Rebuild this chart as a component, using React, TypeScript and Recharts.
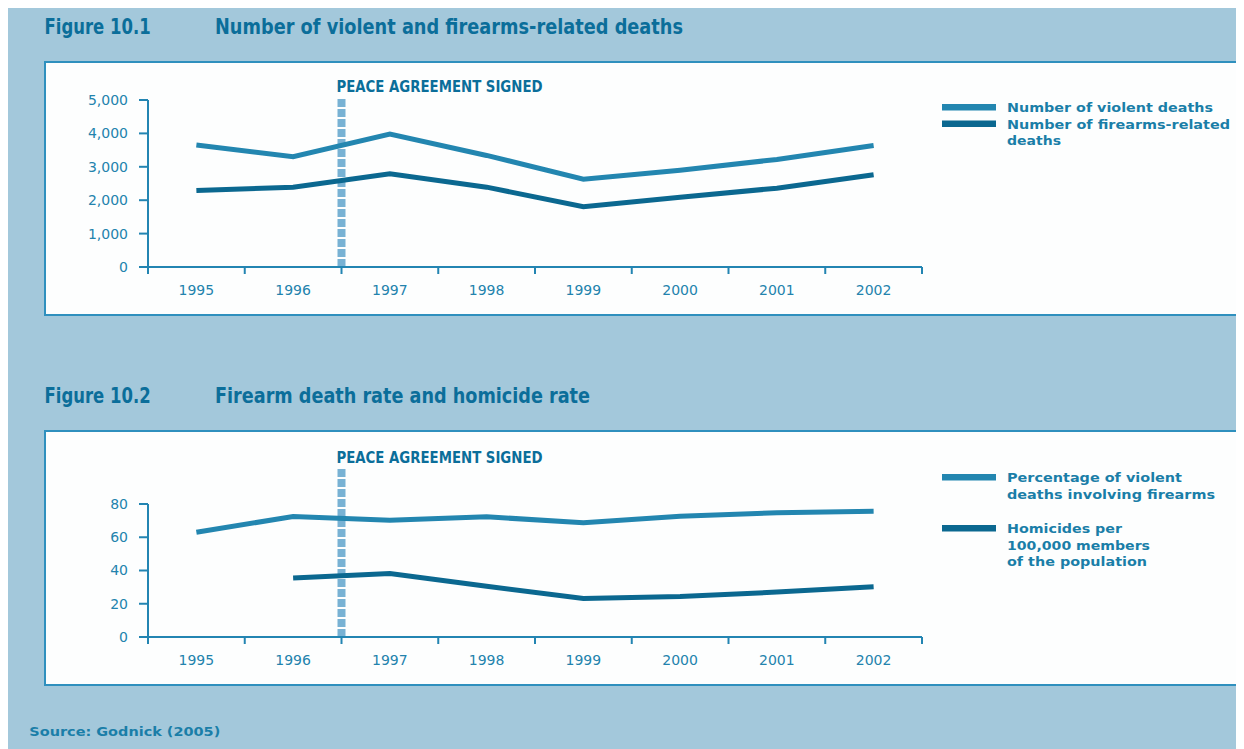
import { LineChart, Line, XAxis, YAxis, ReferenceLine } from 'recharts'

const years = ['1995', '1996', '1997', '1998', '1999', '2000', '2001', '2002']
const violentDeaths = [3650, 3300, 3980, 3340, 2630, 2900, 3220, 3640]
const firearmDeaths = [2290, 2390, 2790, 2390, 1805, 2090, 2360, 2760]
const firearmShare = [63, 72.5, 70.3, 72.3, 68.7, 72.6, 74.7, 75.6]
const homicideRate = [null, 35.5, 38.2, 30.5, 23.1, 24.4, 27, 30.2]
const deathTicks = [0, 1000, 2000, 3000, 4000, 5000]
const rateTicks = [0, 20, 40, 60, 80]
const peaceLabel = 'PEACE AGREEMENT SIGNED'

const bg = '#a3c8db'
const border = '#2f90be'
const axisColor = '#2385b2'
const tickColor = '#2383ad'
const titleColor = '#0b6e9a'
const legendColor = '#1a7ea8'
const lightLine = '#2386b0'
const darkLine = '#0b6890'
const peaceColor = '#78b2d4'
const narrow = '"Liberation Sans Narrow", "DejaVu Sans Condensed", "Roboto Condensed", "Liberation Sans", sans-serif'
const wide = '"DejaVu Sans", Verdana, sans-serif'

// band edges at whole numbers, year labels at the half positions
const xTicks = Array.from({ length: years.length * 2 + 1 }, (_, i) => i / 2)

const deathRows = years.map((year, i) => ({ pos: i + 0.5, year, violent: violentDeaths[i], firearms: firearmDeaths[i] }))
const rateRows = years.map((year, i) => ({ pos: i + 0.5, year, share: firearmShare[i], homicide: homicideRate[i] }))

function XTick({ x, y, payload }: any) {
  const v = payload.value
  if (Number.isInteger(v)) return <line x1={x} y1={y} x2={x} y2={y + 7} stroke={axisColor} strokeWidth={2} />
  return <text x={x} y={y + 28} textAnchor="middle" fill={tickColor} fontSize={14} fontFamily={wide}>{years[Math.floor(v)]}</text>
}

const PeaceLabel = ({ viewBox }: any) => (
  <text x={viewBox.x - 5} y={viewBox.y - 6} fill={titleColor} fontSize={16} fontWeight="bold" fontFamily={narrow} textLength={206} lengthAdjust="spacingAndGlyphs">{peaceLabel}</text>
)

function Chart({ rows, keys, colors, ticks, max, top, plotH, lineTop }: any) {
  return (
    <LineChart width={900} height={240} data={rows} margin={{ top, right: 18, bottom: 240 - 30 - top - plotH, left: 48 }}>
      <XAxis type="number" dataKey="pos" domain={[0, years.length]} ticks={xTicks} interval={0} tickLine={false} tickSize={0} tickMargin={0} axisLine={{ stroke: axisColor, strokeWidth: 2 }} tick={<XTick />} height={30} />
      <YAxis type="number" domain={[0, max]} ticks={ticks} interval={0} width={60} tickSize={9} tickMargin={11} axisLine={{ stroke: axisColor, strokeWidth: 2 }} tickLine={{ stroke: axisColor, strokeWidth: 2 }} tick={{ fill: tickColor, fontSize: 14, fontFamily: wide }} tickFormatter={(v: number) => v.toLocaleString('en-US')} />
      <ReferenceLine segment={[{ x: 2, y: 0 }, { x: 2, y: lineTop }]} ifOverflow="visible" stroke={peaceColor} strokeWidth={8} strokeDasharray="8 2" label={PeaceLabel} />
      {keys.map((k: string, i: number) => (
        <Line key={k} dataKey={k} type="linear" stroke={colors[i]} strokeWidth={5} dot={false} activeDot={false} isAnimationActive={false} connectNulls={false} />
      ))}
    </LineChart>
  )
}

const T = ({ x, y, len, size = 13, family = wide, weight = 'bold', color = legendColor, children }: any) => (
  <text x={x} y={y} fill={color} fontSize={size} fontFamily={family} fontWeight={weight} textLength={len} lengthAdjust="spacingAndGlyphs">{children}</text>
)

export default function App() {
  // overlay coordinates are page coordinates minus (8, 5)
  return (
    <div style={{ position: 'relative', width: 1236, height: 744, marginTop: -3, background: bg, overflow: 'hidden' }}>
      <div style={{ position: 'absolute', left: 36, top: 56, width: 1198, height: 255, boxSizing: 'border-box', border: `2px solid ${border}`, background: '#fdfefe' }} />
      <div style={{ position: 'absolute', left: 36, top: 425, width: 1198, height: 256, boxSizing: 'border-box', border: `2px solid ${border}`, background: '#fdfefe' }} />
      <div style={{ position: 'absolute', left: 32, top: 65 }}>
        <Chart rows={deathRows} keys={['violent', 'firearms']} colors={[lightLine, darkLine]} ticks={deathTicks} max={5000} top={30} plotH={167} lineTop={5060} />
      </div>
      <div style={{ position: 'absolute', left: 32, top: 425 }}>
        <Chart rows={rateRows} keys={['share', 'homicide']} colors={[lightLine, darkLine]} ticks={rateTicks} max={80} top={74} plotH={133} lineTop={101} />
      </div>
      <svg width={1236} height={744} style={{ position: 'absolute', left: 0, top: 0, pointerEvents: 'none' }}>
        <T x={36.6} y={29} len={106} size={21} family={narrow} color={titleColor}>Figure 10.1</T>
        <T x={207} y={29} len={468} size={21} family={narrow} color={titleColor}>Number of violent and firearms-related deaths</T>
        <T x={36.6} y={398} len={106} size={21} family={narrow} color={titleColor}>Figure 10.2</T>
        <T x={207} y={398} len={375} size={21} family={narrow} color={titleColor}>Firearm death rate and homicide rate</T>

        <rect x={934} y={99} width={54} height={6.5} fill={lightLine} />
        <rect x={934} y={115.5} width={54} height={6.5} fill={darkLine} />
        <T x={999} y={107} len={206}>Number of violent deaths</T>
        <T x={999} y={123.5} len={223}>Number of firearms-related</T>
        <T x={999} y={140} len={54}>deaths</T>

        <rect x={934} y={469} width={54} height={6.5} fill={lightLine} />
        <rect x={934} y={520} width={54} height={6.5} fill={darkLine} />
        <T x={999} y={476.5} len={175}>Percentage of violent</T>
        <T x={999} y={494} len={208}>deaths involving firearms</T>
        <T x={999} y={527.5} len={115}>Homicides per</T>
        <T x={999} y={545} len={143}>100,000 members</T>
        <T x={999} y={561} len={140}>of the population</T>

        <T x={21.3} y={731} len={191} size={12}>Source: Godnick (2005)</T>
      </svg>
    </div>
  )
}
